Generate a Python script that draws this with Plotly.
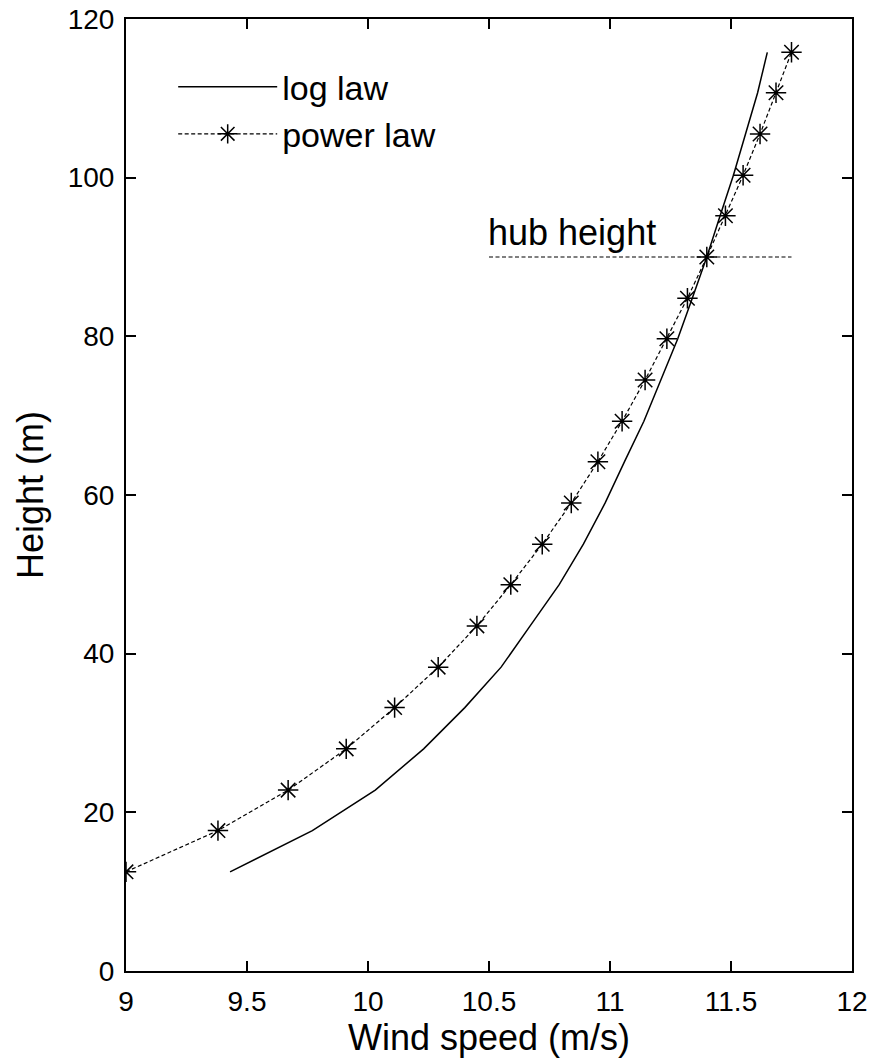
import plotly.graph_objects as go

heights = [12.5, 17.7, 22.8, 28.0, 33.2, 38.3, 43.5, 48.7, 53.8, 59.0, 64.2,
           69.3, 74.5, 79.7, 84.8, 90.0, 95.2, 100.3, 105.5, 110.7, 115.8]
log_law = [9.43, 9.77, 10.03, 10.23, 10.40, 10.55, 10.67, 10.79, 10.89, 10.98, 11.06,
           11.14, 11.21, 11.28, 11.34, 11.40, 11.455, 11.51, 11.56, 11.61, 11.65]
power_law = [9.00, 9.38, 9.67, 9.91, 10.11, 10.29, 10.45, 10.59, 10.72, 10.84, 10.95,
             11.05, 11.145, 11.235, 11.32, 11.40, 11.477, 11.55, 11.62, 11.686, 11.75]
hub_x = [10.5, 11.75]
hub_y = [90, 90]
hub_label = "hub height"
x_ticks = [9, 9.5, 10, 10.5, 11, 11.5, 12]
y_ticks = [0, 20, 40, 60, 80, 100, 120]

FONT = "Liberation Sans, Arial, sans-serif"

fig = go.Figure()
fig.add_trace(go.Scatter(x=log_law, y=heights, mode="lines", name="log law",
                         line=dict(color="black", width=1.5)))
fig.add_trace(go.Scatter(x=power_law, y=heights, mode="lines+markers", name="power law",
                         line=dict(color="black", width=1.2, dash="4px,2.5px"),
                         marker=dict(symbol="asterisk", size=17, color="black",
                                     line=dict(color="black", width=1.5))))
fig.add_trace(go.Scatter(x=hub_x, y=hub_y, mode="lines", showlegend=False,
                         line=dict(color="black", width=1.2, dash="4px,2.5px")))

fig.add_annotation(x=hub_x[0], y=hub_y[0], text=hub_label, showarrow=False,
                   xanchor="left", yanchor="bottom", xshift=-3, yshift=2,
                   font=dict(family=FONT, size=36, color="black"))

axis_common = dict(showline=True, linecolor="black", linewidth=2, mirror="ticks",
                   ticks="inside", ticklen=10, tickwidth=1.5, tickcolor="black",
                   showgrid=False, zeroline=False, automargin=False,
                   tickfont=dict(family=FONT, size=28, color="black"))

fig.update_layout(
    width=873, height=1063,
    margin=dict(l=126, r=21, t=19, b=92, autoexpand=False),
    paper_bgcolor="white", plot_bgcolor="white",
    font=dict(family=FONT, color="black"),
    xaxis=dict(range=[9, 12], tickvals=x_ticks, ticktext=[str(t) for t in x_ticks],
               title=dict(text="Wind speed (m/s)", font=dict(size=36), standoff=4),
               ticklabelstandoff=4, **axis_common),
    yaxis=dict(range=[0, 120], tickvals=y_ticks,
               title=dict(text="Height (m)", font=dict(size=36), standoff=13),
               ticklabelstandoff=4, **axis_common),
    legend=dict(x=0.065, y=0.959, xanchor="left", yanchor="top",
                bgcolor="rgba(0,0,0,0)", borderwidth=0,
                itemwidth=99, font=dict(family=FONT, size=34, color="black"),
                tracegroupgap=0),
    showlegend=True,
)

fig.write_html("out.html")
